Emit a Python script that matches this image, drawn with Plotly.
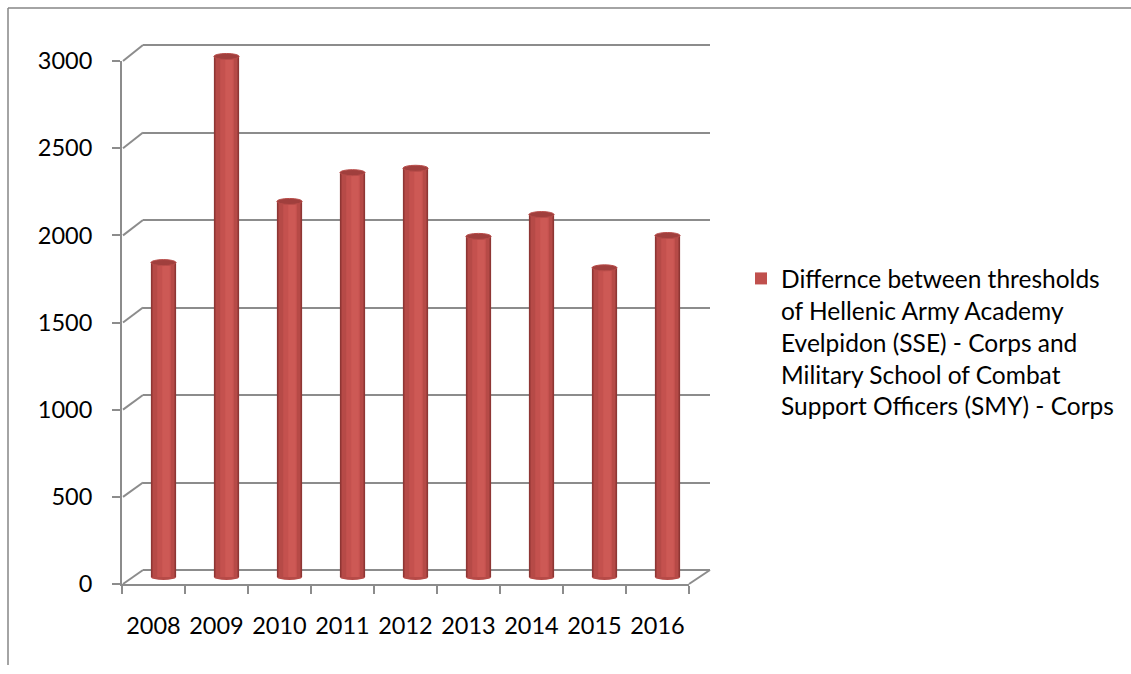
import plotly.graph_objects as go

# ---------------- data ----------------
years = ["2008", "2009", "2010", "2011", "2012", "2013", "2014", "2015", "2016"]
values = [1800, 2980, 2150, 2315, 2340, 1950, 2075, 1770, 1955]
series_name = ("Differnce between thresholds<br>of Hellenic Army Academy<br>"
               "Evelpidon (SSE) - Corps and<br>Military School of Combat<br>"
               "Support Officers (SMY) - Corps")
y_ticks = [0, 500, 1000, 1500, 2000, 2500, 3000]

# ---------------- layout helpers ----------------
W, H = 1131, 674
def fx(px):
    return px / W
def fy(py):
    return 1 - py / H

FONT = "Lato"
GRAY = "#8C8C8C"
idx = list(range(len(years)))

# plane geometry (pixels) : front (axis), middle (bars), back (wall)
front = dict(x0=122, x1=689, y0=584, y1=61)
mid = dict(x0=132, x1=699, y0=577, y1=53)
back = dict(x0=143, x1=710, y0=570, y1=45)
YMAX = 3000

fig = go.Figure()

# empty traces so that every subplot exists
fig.add_trace(go.Scatter(x=[], y=[], xaxis="x", yaxis="y", showlegend=False, hoverinfo="skip"))
fig.add_trace(go.Scatter(x=[], y=[], xaxis="x2", yaxis="y2", showlegend=False, hoverinfo="skip"))

# cylinder-like bars on the middle plane (x3/y3)
layers = [
    dict(offset=-0.20, width=0.40, color="#8E3634"),
    dict(offset=-0.175, width=0.35, color="#B64A47"),
    dict(offset=-0.10, width=0.22, color="#C4514E"),
    dict(offset=-0.02, width=0.12, color="#CD5955"),
]
for L in layers:
    fig.add_trace(go.Bar(
        x=idx, y=values, xaxis="x3", yaxis="y3",
        offset=L["offset"], width=L["width"],
        marker=dict(color=L["color"], line=dict(width=0)),
        showlegend=False, hoverinfo="skip"))
# legend entry
fig.add_trace(go.Bar(
    x=[None], y=[None], xaxis="x3", yaxis="y3", name=series_name,
    marker=dict(color="#C0504D", line=dict(width=0)), showlegend=True))

# scale of middle plane
s_mid = (mid["y0"] - mid["y1"]) / YMAX
cap_h = 3.0 / s_mid
y3_min = -(592 - mid["y0"]) / s_mid
y3_max = YMAX + (mid["y1"] - 40) / s_mid

# back wall axis padded slightly so the top gridline is drawn
s_back = (back["y0"] - back["y1"]) / YMAX
PAD = 10
back_dom = [fy(back["y0"] + PAD * s_back), fy(back["y1"] - PAD * s_back)]

shapes = []
for i, v in zip(idx, values):
    # rounded base
    shapes.append(dict(type="circle", xref="x3", yref="y3", layer="between",
                       x0=i - 0.20, x1=i + 0.20, y0=-cap_h, y1=cap_h,
                       fillcolor="#B64A47", line=dict(width=0)))
    # top cap
    shapes.append(dict(type="circle", xref="x3", yref="y3", layer="above",
                       x0=i - 0.20, x1=i + 0.20, y0=v - cap_h, y1=v + cap_h,
                       fillcolor="#A03F3D", line=dict(color="#B84C49", width=1)))

# perspective connectors between front axis and back wall
def yfront(v):
    return fy(front["y0"]) + v / YMAX * (fy(front["y1"]) - fy(front["y0"]))
def yback(v):
    return fy(back["y0"]) + v / YMAX * (fy(back["y1"]) - fy(back["y0"]))
for v in y_ticks:
    shapes.append(dict(type="line", xref="paper", yref="paper", layer="below",
                       x0=fx(front["x0"] + 1), y0=yfront(v), x1=fx(back["x0"]), y1=yback(v),
                       line=dict(color=GRAY, width=2)))
# floor right edge
shapes.append(dict(type="line", xref="paper", yref="paper", layer="below",
                   x0=fx(front["x1"]), y0=yfront(0), x1=fx(back["x1"]), y1=yback(0),
                   line=dict(color=GRAY, width=2)))
# chart border (partially visible)
shapes.append(dict(type="line", xref="paper", yref="paper", x0=fx(8), y0=fy(8), x1=fx(1140), y1=fy(8),
                   line=dict(color="#868686", width=1.5)))
shapes.append(dict(type="line", xref="paper", yref="paper", x0=fx(8), y0=fy(8), x1=fx(8), y1=fy(665),
                   line=dict(color="#868686", width=1.5)))

tickfont = dict(family=FONT, size=23.5, color="#000000")

fig.update_layout(
    width=W, height=H, autosize=False,
    margin=dict(l=0, r=0, t=0, b=0, pad=0, autoexpand=False),
    paper_bgcolor="white", plot_bgcolor="rgba(0,0,0,0)",
    barmode="overlay",
    showlegend=True,
    shapes=shapes,
    # back wall
    xaxis=dict(domain=[fx(back["x0"]), fx(back["x1"])], range=[-0.5, 8.5], visible=False,
               anchor="y", automargin=False),
    yaxis=dict(domain=back_dom, range=[-PAD, YMAX + PAD], anchor="x",
               tickvals=y_ticks, showticklabels=False, ticks="", automargin=False,
               showgrid=True, gridcolor=GRAY, gridwidth=2,
               zeroline=False, showline=False),
    # front axes
    xaxis2=dict(domain=[fx(front["x0"]), fx(front["x1"])], range=[-0.5, 8.5], anchor="y2",
                tickvals=idx, ticktext=years, ticks="", tickfont=tickfont, automargin=False,
                showline=True, linecolor=GRAY, linewidth=2, showgrid=False, zeroline=False,
                ticklabelstandoff=20,
                minor=dict(tickvals=[i - 0.5 for i in range(len(years) + 1)], ticks="outside",
                           ticklen=8, tickwidth=2, tickcolor=GRAY, showgrid=False)),
    yaxis2=dict(domain=[fy(front["y0"]), fy(front["y1"])], range=[0, YMAX], anchor="x2",
                tickvals=y_ticks, ticks="outside", ticklen=8, tickwidth=2, tickcolor=GRAY,
                showline=True, linecolor=GRAY, linewidth=2, showgrid=False, zeroline=False,
                tickfont=tickfont, ticklabelstandoff=15, automargin=False),
    # bars (middle plane)
    xaxis3=dict(domain=[fx(mid["x0"]), fx(mid["x1"])], range=[-0.5, 8.5], visible=False,
                anchor="y3", automargin=False),
    yaxis3=dict(domain=[fy(592), fy(40)], range=[y3_min, y3_max], visible=False, anchor="x3",
                automargin=False),
    legend=dict(x=fx(741), y=fy(256), xanchor="left", yanchor="top",
                font=dict(family=FONT, size=24.5, color="#000000"),
                bgcolor="rgba(0,0,0,0)", borderwidth=0, valign="top",
                tracegroupgap=0),
)

fig.write_html("out.html", config={"displayModeBar": False, "staticPlot": True},
               post_script="document.body.style.margin='0';")
